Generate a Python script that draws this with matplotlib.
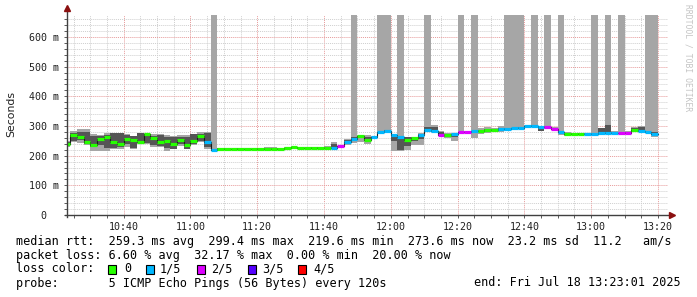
import numpy as np;
import pandas as pd;
import matplotlib;
matplotlib.use('Agg');
import matplotlib.pyplot as plt;
import matplotlib.dates as mdates;
from matplotlib.patches import Rectangle;
from matplotlib.ticker import MultipleLocator;

# smokeping probe, one value per 2 min step, first step 10:22 (clipped at left)
start = '2025-07-18 10:22';
median = [241, 270, 262, 245, 235, 257, 264, 246, 238, 256,
          253, 246, 273, 261, 245, 250, 238, 253, 237, 248,
          266, 246, 219.6, 224, 223, 222, 223, 223, 222, 223,
          224, 223, 224, 225, 228, 225, 225, 226, 226, 226,
          227, 231, 247, 257, 265, 253, 262, 279, 283, 271,
          263, 254, 260, 269, 285, 283, 271, 271, 273, 279,
          280, 282, 283, 286, 287, 291, 290, 292, 294, 299,
          299.4, 297, 296, 291, 279, 274, 273, 273, 273, 274,
          275, 277, 277, 275, 277, 286, 284, 280, 274];
# lost pings out of 5
loss = [0, 0, 0, 0, 0, 0, 0, 0, 0, 0,
        0, 0, 0, 0, 0, 0, 0, 0, 0, 0,
        0, 1, 1, 0, 0, 0, 0, 0, 0, 0,
        0, 0, 0, 0, 0, 0, 0, 0, 0, 0,
        1, 2, 1, 1, 0, 0, 1, 1, 1, 1,
        1, 0, 0, 1, 1, 1, 2, 0, 1, 2,
        2, 1, 0, 0, 0, 1, 1, 1, 1, 1,
        1, 1, 2, 2, 1, 0, 0, 0, 1, 1,
        1, 1, 1, 2, 2, 0, 1, 1, 1];
# sorted pings: p1 lowest, p2, (median), p4, p5 highest; 675 = lost ping
p1 = [229, 245, 244, 236, 217, 217, 217, 221, 221, 230,
      221, 240, 241, 230, 228, 217, 221, 232, 221, 236,
      247, 222, 219, 221, 221, 220, 220, 221, 219, 221,
      221, 220, 221, 222, 224, 222, 222, 223, 223, 222,
      224, 228, 236, 244, 247, 241, 255, 276, 279, 217,
      217, 219, 236, 236, 283, 280, 268, 259, 250, 276,
      277, 260, 273, 275, 280, 281, 284, 287, 289, 293,
      296, 283, 290, 286, 270, 267, 270, 271, 272, 271,
      273, 274, 272, 272, 274, 279, 281, 276, 262];
p2 = [235, 250, 253, 240, 230, 236, 225, 225, 230, 241,
      225, 245, 244, 235, 232, 225, 222, 238, 221, 241,
      250, 228, 219, 222, 222, 221, 221, 222, 220, 222,
      222, 221, 222, 223, 225, 223, 223, 224, 224, 224,
      225, 229, 240, 250, 258, 248, 258, 278, 281, 249,
      219, 233, 250, 255, 284, 282, 270, 264, 262, 278,
      278, 276, 279, 281, 284, 286, 287, 290, 292, 296,
      298, 284, 293, 288, 275, 270, 271, 272, 272, 272,
      274, 276, 274, 273, 275, 281, 283, 278, 270];
p4 = [247, 278, 280, 280, 266, 266, 270, 275, 275, 270,
      266, 277, 270, 268, 270, 262, 262, 264, 262, 273,
      272, 275, 222, 226, 225, 224, 225, 224, 224, 225,
      226, 226, 226, 227, 229, 227, 227, 228, 228, 229,
      238, 233, 252, 262, 268, 262, 264, 281, 287, 271,
      264, 262, 262, 272, 297, 297, 281, 273, 274, 281,
      281, 284, 288, 290, 290, 295, 293, 295, 297, 301,
      303, 296, 299, 294, 283, 277, 275, 275, 275, 276,
      292, 302, 280, 278, 280, 293, 296, 283, 280];
p5 = [250, 283, 291, 291, 273, 271, 275, 277, 277, 272,
      268, 277, 277, 273, 273, 271, 268, 271, 270, 273,
      279, 279, 675, 227, 227, 225, 226, 225, 225, 226,
      229, 228, 227, 228, 231, 228, 229, 229, 229, 232,
      246, 234, 255, 675, 270, 271, 265, 675, 675, 273,
      675, 264, 264, 277, 675, 303, 283, 277, 276, 675,
      283, 675, 292, 297, 293, 300, 675, 675, 675, 303,
      675, 300, 675, 296, 675, 279, 276, 276, 276, 675,
      294, 675, 282, 675, 282, 297, 300, 675, 675];

loss_colors = ['#26ff00', '#00b8ff', '#dd00ff', '#5500ff', '#ff0000'];
loss_labels = ['0', '1/5', '2/5', '3/5', '4/5'];
ytick_vals = [0, 100, 200, 300, 400, 500, 600];
ytick_labels = ['0  ', '100 m', '200 m', '300 m', '400 m', '500 m', '600 m'];

legend_lines = [
    'median rtt:  259.3 ms avg  299.4 ms max  219.6 ms min  273.6 ms now  23.2 ms sd  11.2   am/s',
    'packet loss: 6.60 % avg  32.17 % max  0.00 % min  20.00 % now',
    'loss color:',
    'probe:       5 ICMP Echo Pings (56 Bytes) every 120s',
];
end_text = 'end: Fri Jul 18 13:23:01 2025';

mono = 'DejaVu Sans Mono';
W, H = 697, 297;

t = pd.date_range(start, periods=len(median), freq='2min');
x = mdates.date2num(t);
w = 2 / 1440;

fig = plt.figure(figsize=(W/100, H/100), dpi=100, facecolor='white');
ax = fig.add_axes([67/W, 82/H, 601/W, 200.5/H]);

# smoke
lo = np.array(p1); hi = np.array(p5);
ax.bar(x, hi - lo, bottom=lo, width=w, align='edge', color='#a6a6a6', linewidth=0, zorder=2);
ax.bar(x, np.array(p4) - np.array(p2), bottom=p2, width=w, align='edge', color='#555555', linewidth=0, zorder=2);

# median: thin dark step line + loss coloured segments
ax.step(np.append(x, x[-1] + w), np.append(median, median[-1]), where='post', color='#1a1a1a', lw=0.8, zorder=3);
ax.hlines(median, x, x + w, colors=[loss_colors[l] for l in loss], lw=2.3, zorder=4);

ax.set_xlim(mdates.date2num(pd.Timestamp('2025-07-18 10:23:01')), mdates.date2num(pd.Timestamp('2025-07-18 13:23:01')));
ax.set_ylim(0, 676);

ax.xaxis.set_major_locator(mdates.MinuteLocator(byminute=[0, 20, 40]));
ax.xaxis.set_minor_locator(mdates.MinuteLocator(byminute=range(0, 60, 5)));
ax.xaxis.set_major_formatter(mdates.DateFormatter('%H:%M'));
ax.set_yticks(ytick_vals);
ax.set_yticklabels(ytick_labels);
ax.yaxis.set_minor_locator(MultipleLocator(20));

ax.set_axisbelow(True);
ax.grid(which='minor', color='#cfcfcf', linestyle=(0, (1, 1)), lw=0.7);
ax.grid(which='major', color='#e79a9a', linestyle=(0, (1, 1)), lw=0.7);

for s in ax.spines.values():
    s.set_visible(False);
ax.tick_params(which='both', direction='out', length=2, width=0.6, color='#404040');
ax.tick_params(axis='x', pad=3);
ax.tick_params(axis='y', pad=4);
for lab in ax.get_xticklabels() + ax.get_yticklabels():
    lab.set_fontfamily(mono);
    lab.set_fontsize(7.2);
    lab.set_color('#202020');

# axis lines with arrows
ax.plot([0, 0], [-0.012, 1.03], transform=ax.transAxes, color='#404040', lw=1, clip_on=False, zorder=5);
ax.plot([-0.004, 1.005], [0, 0], transform=ax.transAxes, color='#404040', lw=1, clip_on=False, zorder=5);
ax.plot([0], [1.03], marker='^', ms=4, color='#8b1010', transform=ax.transAxes, clip_on=False, zorder=6);
ax.plot([1.006], [0], marker='>', ms=4, color='#8b1010', transform=ax.transAxes, clip_on=False, zorder=6);

fig.text(11/W, 1 - 114/H, 'Seconds', rotation=90, ha='center', va='center', fontsize=7.8, family='DejaVu Sans', color='#202020');
fig.text(688/W, 1 - 4/H, 'RRDTOOL / TOBI OETIKER', rotation=270, ha='center', va='top', fontsize=5.8, family=mono, color='#c4c4c4');

# legend block
for i, line in enumerate(legend_lines):
    fig.text(16/W, 1 - (241 + 14*i)/H, line, family=mono, fontsize=8.5, va='center', color='black');
fig.text(681/W, 1 - 283/H, end_text, family=mono, fontsize=8.5, va='center', ha='right', color='black');

box_x = [108, 146, 196.5, 247.5, 298];
lab_x = [124, 160, 211, 262, 313];
for c, lab, bx, lx in zip(loss_colors, loss_labels, box_x, lab_x):
    fig.patches.append(Rectangle((bx/W, 1 - 273.5/H), 8/W, 9/H, transform=fig.transFigure, facecolor=c, edgecolor='black', lw=0.8));
    fig.text(lx/W, 1 - 269/H, lab, family=mono, fontsize=8.5, va='center', color='black');

fig.savefig('out.png', dpi=100, facecolor='white');
